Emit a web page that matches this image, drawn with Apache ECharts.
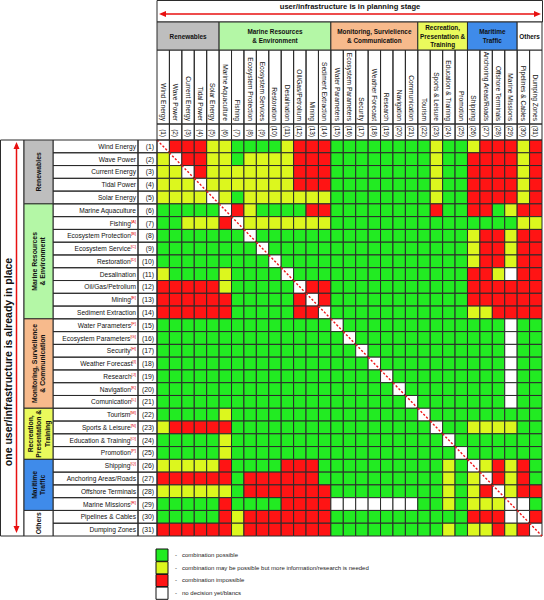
<!DOCTYPE html>
<html><head><meta charset="utf-8">
<script src="https://cdn.jsdelivr.net/npm/echarts@6/dist/echarts.min.js"></script>
<style>html,body{margin:0;padding:0;background:#fff}#c{width:544px;height:600px}</style>
</head><body><div id="c"></div>
<script>
// ---------------- data ----------------
const colNames = ['Wind Energy','Wave Power','Current Energy','Tidal Power','Solar Energy',
  'Marine Aquaculture','Fishing','Ecosystem Protection','Ecosystem Services','Restoration','Desalination',
  'Oil/Gas/Petrolium','Mining','Sediment Extraction','Water Parameters','Ecosystem Parameters','Security',
  'Weather Forecast','Research','Navigation','Communication','Tourism','Sports & Leisure','Education & Training',
  'Promotion','Shipping','Anchoring Areas/Roads','Offshore Terminals','Marine Missions','Pipelines & Cables','Dumping Zones'];
const rowNames = ['Wind Energy','Wave Power','Current Energy','Tidal Power','Solar Energy',
  'Marine Aquaculture','Fishing','Ecosystem Protection','Ecosystem Service','Restoration','Desalination',
  'Oil/Gas/Petrolium','Mining','Sediment Extraction','Water Parameters','Ecosystem Parameters','Security',
  'Weather Forecast','Research','Navigation','Comunication','Tourism','Sports & Leisure','Education & Training',
  'Promotion','Shipping','Anchoring Areas/Roads','Offshore Terminals','Marine Missions','Pipelines & Cables','Dumping Zones'];
const rowSup = ['','','','','','','A','B','C','D','','','E','','F','G','H','I','J','K','L','M','N','O','P','Q','','','R','',''];
const numLabels = ['(1)','(2)','(3)','(4)','(5)','(6)','(7)','(8)','(9)','(10)','(11)','(12)','(13)','(14)','(15)','(16)',
  '(17)','(18)','(19)','(20)','(21)','(22)','(23)','(24)','(25)','(26)','(27)','(28)','(29)','(30)','(31)'];
const groupNames = ['Renewables','Marine Resources\n& Environment','Monitoring, Survielience\n& Communication',
  'Recreation,\nPresentation &\nTraining','Maritime\nTraffic','Others'];
const groupStart = [0, 5, 14, 21, 25, 29];
const groupEnd   = [4, 13, 20, 24, 28, 30];
// G = possible, Y = needs research, R = impossible, W = no decision, D = same user (diagonal)
const cellCodes = [
  'DRRRYYGGGG'+'YRRRGGGGGG'+'GGYGGYRRRYR',
  'YDRRYYGYYY'+'YRRRGGGGGG'+'GGYGGRRRRYR',
  'YYDRYYYYYY'+'YRRRGGGGGG'+'GGYGGRRRRYR',
  'YYYDYYYYYY'+'YRRRGGGGGG'+'GGYGGRRRRYR',
  'YYYYDYGYYY'+'YYYYGGGGGG'+'GGYGGRRRRYR',
  'GGGGGDRYGG'+'GGRRGGGGGG'+'GGRGGRRGYRR',
  'GGYYYRDYYY'+'YYYYGGGGGG'+'GGGGGGGGGYY',
  'GGGGGGGDGG'+'GGGGGGGGGG'+'GGGGGYRRYRR',
  'GGGGGGGGDG'+'GGGGGGGGGG'+'GGGGGYRRYRR',
  'GGGGGGGGGD'+'GGGGGGGGGG'+'GGGGGYRRYRR',
  'YGGGGYGGGG'+'DGGGGGGGGG'+'GGGGGRRYWRR',
  'RRRRRYGGGG'+'GDRRGGGGGG'+'GGGGGRRRRRR',
  'RRRRRRGGGG'+'GRDRGGGGGG'+'GGGGGRRRRRR',
  'RRRRRRGGGG'+'GRRDGGGGGG'+'GGGGGYYRRRR',
  'GGGGGGGGGG'+'GGGGDGGGGG'+'GGGGGGGGWGG',
  'GGGGGGGGGG'+'GGGGGDGGGG'+'GGGGGGGGWGG',
  'GGGGGGGGGG'+'GGGGGGDGGG'+'GGGGGGGGWGG',
  'GGGGGGGGGG'+'GGGGGGGDGG'+'GGGGGGGGWGG',
  'GGGGGGGGGG'+'GGGGGGGGDG'+'GGGGGGGGWGG',
  'GGGGGGGGGG'+'GGGGGGGGGD'+'GGGGGGGGWGG',
  'GGGGGGGGGG'+'GGGGGGGGGG'+'DGGGGGGGWGG',
  'GGGGGYGGGG'+'GGGGGGGGGG'+'GDGGGGGGGGG',
  'YRRRRRGGGG'+'GGGGGGGGGG'+'GGDGGYYYYGG',
  'GGGGGYGGGG'+'GGGGGGGGGG'+'GGGDGGGGGGG',
  'GGGGGYGGGG'+'GGGGGGGGGG'+'GGGGDGGGGGG',
  'YYYYYRGGGG'+'RRRGGGGGGG'+'GGGYGDYRYRG',
  'RRRRRRGRRR'+'RRRGGGGGGG'+'GGGYGYDRYRG',
  'YYYYYYGRRR'+'RRRRGGGGGG'+'GGGYGYRDYRR',
  'GGGGGRGGGG'+'RRRRWWWWWW'+'WGGYGYYYDWG',
  'GGGGGRYRRR'+'RRRRGGGGGG'+'GGGGGRRRWDR',
  'RRRRRRYRRR'+'RRRRGGGGGG'+'GGGYGYYRYRD'
];
const legendCodes = ['G','Y','R','W'];
const legendTexts = ['combination possible','combination may be possible but more information/research is needed',
  'combination impossible','no decision yet/blancs'];
const titleTop = 'user/infrastructure is in planning stage';
const titleLeft = 'one user/infrastructure is already in place';

// ---------------- styles ----------------
const F = '"Liberation Sans", Arial, sans-serif';
const fillOf = {G:'#22EB22', Y:'#DCF71E', R:'#FF1414', W:'#FFFFFF', D:'#FFFFFF'};
const groupColors = ['#BEBEBE','#B4F7A6','#F7BA8C','#EAFA5C','#3F8BEA','#FFFFFF'];
const LINE = '#2b2b2b';
const codeList = ['G','Y','R','W','D'];

const cellData = [];
cellCodes.forEach((row, r) => { for (let c = 0; c < row.length; c++) cellData.push([c, r, codeList.indexOf(row[c])]); });

function gridBox(api) {
  const p = api.coord([0, 0]), s = api.size([1, 1]);
  return {left: p[0] - s[0] / 2, top: p[1] - s[1] / 2, w: s[0], h: s[1]};
}
function renderCell(params, api) {
  const c = api.value(0), r = api.value(1), code = codeList[api.value(2)];
  const p = api.coord([c, r]), s = api.size([1, 1]);
  const x = p[0] - s[0] / 2, y = p[1] - s[1] / 2;
  const ch = [{type: 'rect', shape: {x, y, width: s[0], height: s[1]}, style: {fill: fillOf[code], stroke: LINE, lineWidth: 1}}];
  if (code === 'D') ch.push({type: 'line', shape: {x1: x, y1: y, x2: x + s[0], y2: y + s[1]},
    style: {stroke: '#F01515', lineWidth: 1.4, lineDash: [2.2, 1.8]}});
  return {type: 'group', children: ch};
}
function renderColHead(params, api) {
  const g = gridBox(api), p = api.coord([api.value(0), 0]);
  const x = p[0] - g.w / 2;
  return {type: 'group', children: [
    {type: 'rect', shape: {x, y: g.top - 90, width: g.w, height: 74}, style: {fill: 'none', stroke: LINE, lineWidth: 1}},
    {type: 'rect', shape: {x, y: g.top - 16, width: g.w, height: 16}, style: {fill: 'none', stroke: LINE, lineWidth: 1}}
  ]};
}
function renderRowHead(params, api) {
  const g = gridBox(api), p = api.coord([0, api.value(1)]);
  const y = p[1] - g.h / 2;
  return {type: 'group', children: [
    {type: 'rect', shape: {x: g.left - 104, y, width: 85, height: g.h}, style: {fill: 'none', stroke: LINE, lineWidth: 1}},
    {type: 'rect', shape: {x: g.left - 19, y, width: 19, height: g.h}, style: {fill: 'none', stroke: LINE, lineWidth: 1}}
  ]};
}
function renderGroup(params, api) {
  const gi = api.value(2), g = gridBox(api);
  const a = api.coord([groupStart[gi], groupStart[gi]]), b = api.coord([groupEnd[gi], groupEnd[gi]]);
  const x1 = a[0] - g.w / 2, x2 = b[0] + g.w / 2, y1 = a[1] - g.h / 2, y2 = b[1] + g.h / 2;
  const ts = {text: groupNames[gi], align: 'center', verticalAlign: 'middle', fontFamily: F, fontSize: 6.4,
    fontWeight: 'bold', lineHeight: 8.5, fill: '#111'};
  return {type: 'group', children: [
    {type: 'rect', shape: {x: x1, y: g.top - 118, width: x2 - x1, height: 28}, style: {fill: groupColors[gi], stroke: LINE, lineWidth: 1}},
    {type: 'text', x: (x1 + x2) / 2, y: g.top - 104, style: Object.assign({}, ts)},
    {type: 'rect', shape: {x: g.left - 133, y: y1, width: 29, height: y2 - y1}, style: {fill: groupColors[gi], stroke: LINE, lineWidth: 1}},
    {type: 'text', x: g.left - 118.5, y: (y1 + y2) / 2, rotation: Math.PI / 2, style: Object.assign({}, ts, {fontSize: 6.8})}
  ]};
}

const chart = echarts.init(document.getElementById('c'), null, {renderer: 'svg'});
const axisBase = {type: 'category', axisLine: {show: false}, axisTick: {show: false}, splitLine: {show: false}};
const legendGraphics = [];
legendCodes.forEach((code, i) => {
  const y = 549 + i * 12.7;
  legendGraphics.push({type: 'rect', shape: {x: 156, y, width: 12, height: 12.2}, style: {fill: fillOf[code], stroke: '#111', lineWidth: 1}});
  legendGraphics.push({type: 'text', x: 175, y: y + 6, style: {text: '-', fontFamily: F, fontSize: 6, fill: '#222', verticalAlign: 'middle'}});
  legendGraphics.push({type: 'text', x: 182, y: y + 6, style: {text: legendTexts[i], fontFamily: F, fontSize: 6, fill: '#222', verticalAlign: 'middle'}});
});
function arrowH(y, x1, x2) {
  return [
    {type: 'line', shape: {x1: x1 + 3, y1: y, x2: x2 - 3, y2: y}, style: {stroke: '#E81010', lineWidth: 1.5}},
    {type: 'polygon', shape: {points: [[x1, y], [x1 + 7, y - 3], [x1 + 7, y + 3]]}, style: {fill: '#E81010'}},
    {type: 'polygon', shape: {points: [[x2, y], [x2 - 7, y - 3], [x2 - 7, y + 3]]}, style: {fill: '#E81010'}}
  ];
}
function arrowV(x, y1, y2) {
  return [
    {type: 'line', shape: {x1: x, y1: y1 + 3, x2: x, y2: y2 - 3}, style: {stroke: '#E81010', lineWidth: 1.5}},
    {type: 'polygon', shape: {points: [[x, y1], [x - 3, y1 + 7], [x + 3, y1 + 7]]}, style: {fill: '#E81010'}},
    {type: 'polygon', shape: {points: [[x, y2], [x - 3, y2 - 7], [x + 3, y2 - 7]]}, style: {fill: '#E81010'}}
  ];
}

chart.setOption({
  animation: false,
  grid: {left: 157, top: 140, width: 385, height: 396, containLabel: false},
  xAxis: [
    Object.assign({}, axisBase, {data: numLabels, position: 'top',
      axisLabel: {interval: 0, rotate: 90, margin: 3, fontFamily: F, fontSize: 6.4, color: '#111'}}),
    Object.assign({}, axisBase, {data: colNames, position: 'top', offset: 16,
      axisLabel: {interval: 0, rotate: 90, margin: 3, fontFamily: F, fontSize: 6.6, color: '#111'}})
  ],
  yAxis: [
    Object.assign({}, axisBase, {data: numLabels, inverse: true, position: 'left',
      axisLabel: {interval: 0, margin: 3, fontFamily: F, fontSize: 6.8, color: '#111'}}),
    Object.assign({}, axisBase, {data: rowNames, inverse: true, position: 'left', offset: 19,
      axisLabel: {interval: 0, margin: 2, color: '#111',
        formatter: (v, i) => rowSup[i] ? '{n|' + v + '}{s|[' + rowSup[i] + ']}' : '{n|' + v + '}',
        rich: {n: {fontFamily: F, fontSize: 6.6, color: '#111'},
               s: {fontFamily: F, fontSize: 4.2, color: '#E00000', padding: [0, 0, 4, 0]}}}})
  ],
  series: [
    {type: 'custom', name: 'cells', xAxisIndex: 0, yAxisIndex: 0, data: cellData, renderItem: renderCell},
    {type: 'custom', name: 'colHead', xAxisIndex: 0, yAxisIndex: 0, clip: false, data: colNames.map((_, i) => [i, 0]), renderItem: renderColHead},
    {type: 'custom', name: 'rowHead', xAxisIndex: 0, yAxisIndex: 0, clip: false, data: rowNames.map((_, j) => [0, j]), renderItem: renderRowHead},
    {type: 'custom', name: 'groups', xAxisIndex: 0, yAxisIndex: 0, clip: false, data: groupNames.map((_, g) => [groupStart[g], groupEnd[g], g]), renderItem: renderGroup}
  ],
  graphic: [
    {type: 'rect', shape: {x: 157, y: 0.5, width: 385.5, height: 21.5}, style: {fill: 'none', stroke: LINE, lineWidth: 1}},
    {type: 'text', x: 350, y: 6.5, style: {text: titleTop, align: 'center', verticalAlign: 'middle', fontFamily: F, fontSize: 7.6, fontWeight: 'bold', fill: '#111'}},
    ...arrowH(14, 159, 541),
    {type: 'rect', shape: {x: 0.5, y: 140, width: 23.5, height: 396}, style: {fill: 'none', stroke: LINE, lineWidth: 1}},
    {type: 'text', x: 8, y: 362, rotation: Math.PI / 2, style: {text: titleLeft, align: 'center', verticalAlign: 'middle', fontFamily: F, fontSize: 10.5, fontWeight: 'bold', fill: '#111'}},
    ...arrowV(16.5, 142, 533),
    ...legendGraphics
  ]
});
</script></body></html>
